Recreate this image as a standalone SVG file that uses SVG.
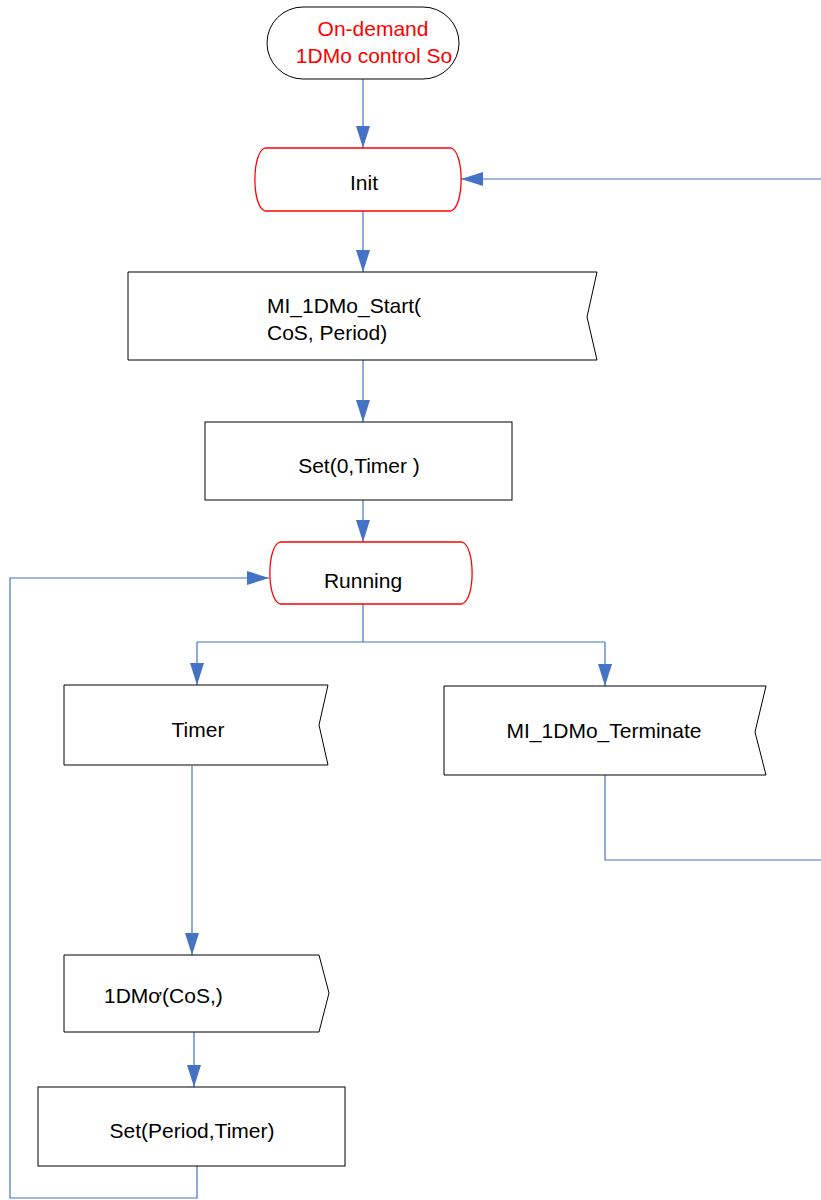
<svg xmlns="http://www.w3.org/2000/svg" width="821" height="1200" viewBox="0 0 821 1200">
<style>
.box{fill:#fff;stroke:#000;stroke-width:1}
.st{fill:#fff;stroke:#ff0000;stroke-width:1.3}
.t{font-family:"Liberation Sans",Arial,sans-serif;font-size:21px;fill:#000}
.r{fill:#ff0000}
.c{text-anchor:middle}
.ln{fill:none;stroke:#4472C4;stroke-width:1.2}
.a{marker-end:url(#ah)}
</style>
<defs>
<marker id="ah" viewBox="0 0 22 14" refX="22" refY="7" markerWidth="22" markerHeight="14" markerUnits="userSpaceOnUse" orient="auto">
<path d="M0,0 L22,7 L0,14 Z" fill="#4472C4"/>
</marker>
</defs>
<rect width="821" height="1200" fill="#fff"/>
<g id="connectors">
<path class="ln a" d="M363,79 V148"/>
<path class="ln a" d="M821,179 H461"/>
<path class="ln a" d="M363,211 V272"/>
<path class="ln a" d="M363,360 V422"/>
<path class="ln a" d="M363,500 V542"/>
<path class="ln" d="M363,604 V642 M197,642 H605"/>
<path class="ln a" d="M197,642 V685"/>
<path class="ln a" d="M605,642 V686"/>
<path class="ln" d="M605,775 V860 H821"/>
<path class="ln a" d="M192,766 V955"/>
<path class="ln a" d="M194,1032 V1087"/>
<path class="ln a" d="M197,1166 V1198 H10 V578 H269"/>
</g>
<g id="start">
<rect x="267" y="7" width="192" height="72" rx="36" ry="36" class="box"/>
<text class="t r c" x="373" y="36">On-demand</text>
<text class="t r c" x="374" y="63">1DMo control So</text>
</g>
<g id="init">
<path class="st" d="M265,148 H451 C464.5,152 464.5,207 451,211 H265 C251.5,207 251.5,152 265,148 Z"/>
<text class="t c" x="364" y="190">Init</text>
</g>
<g id="mi_start">
<path class="box" d="M128,272 H597 L587,317 L597,360 H128 Z"/>
<text class="t" x="267" y="313">MI_1DMo_Start(</text>
<text class="t" x="267" y="340">CoS, Period)</text>
</g>
<g id="set0">
<rect class="box" x="205" y="422" width="307" height="78"/>
<text class="t c" x="359" y="473">Set(0,Timer )</text>
</g>
<g id="running">
<path class="st" d="M280,542 H462 C475.5,546 475.5,600 462,604 H280 C266.5,600 266.5,546 280,542 Z"/>
<text class="t c" x="363" y="588">Running</text>
</g>
<g id="timer">
<path class="box" d="M64,685 H328 L319,725 L328,765 H64 Z"/>
<text class="t c" x="198" y="737">Timer</text>
</g>
<g id="mi_terminate">
<path class="box" d="M444,686 H766 L755,732 L766,775 H444 Z"/>
<text class="t c" x="604" y="738">MI_1DMo_Terminate</text>
</g>
<g id="send">
<path class="box" d="M64,955 H319 L329,993 L319,1032 H64 Z"/>
<text class="t" x="104" y="1003">1DMơ(CoS,)</text>
</g>
<g id="setperiod">
<rect class="box" x="38" y="1087" width="307" height="79"/>
<text class="t c" x="192" y="1138">Set(Period,Timer)</text>
</g>
</svg>
